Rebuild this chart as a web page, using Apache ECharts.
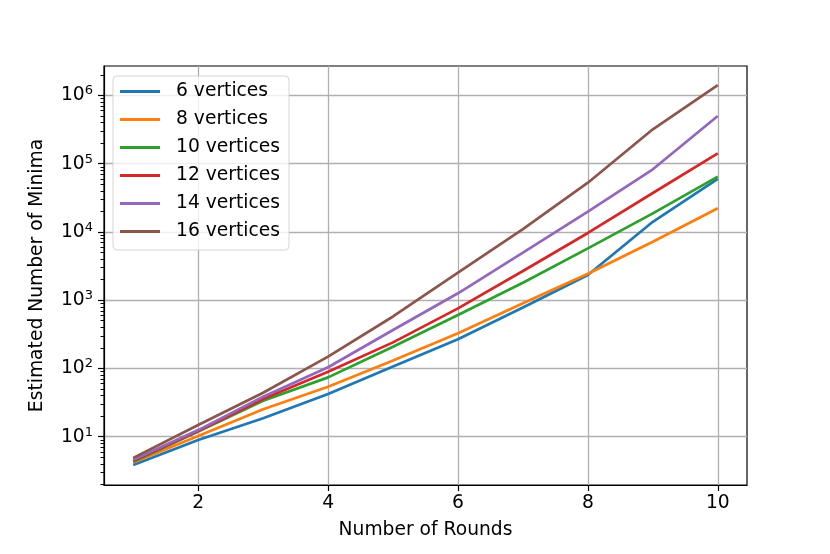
<!DOCTYPE html>
<html>
<head>
<meta charset="utf-8">
<script src="https://cdn.jsdelivr.net/npm/echarts@6/dist/echarts.min.js"></script>
<style>
html,body{margin:0;padding:0;background:#fff;}
#chart{width:830px;height:554px;}
</style>
</head>
<body>
<div id="chart"></div>
<script>
const rounds = [1, 2, 3, 4, 5, 6, 7, 8, 9, 10];
const seriesNames = ['6 vertices', '8 vertices', '10 vertices', '12 vertices', '14 vertices', '16 vertices'];
const v6  = [3.85, 8.95, 18.6, 42.3, 107, 267, 780, 2340, 14100, 59700];
const v8  = [4.2, 10.2, 25.2, 54, 131, 327, 900, 2440, 7200, 22200];
const v10 = [4.3, 11.9, 33.6, 74, 208, 607, 1800, 5750, 18700, 64600];
const v12 = [4.45, 12.1, 35.7, 89.6, 241, 760, 2680, 9660, 37200, 142000];
const v14 = [4.6, 12.5, 38.5, 104, 366, 1262, 4970, 19800, 82800, 500000];
const v16 = [4.9, 14.8, 44, 149, 577, 2530, 11000, 52700, 319000, 1420000];
const allValues = [v6, v8, v10, v12, v14, v16];
const xTicks = [2, 4, 6, 8, 10];
const yTicks = [10, 100, 1000, 10000, 100000, 1000000];
const yMinorTicks = [2,3,4,5,6,7,8,9,20,30,40,50,60,70,80,90,200,300,400,500,600,700,800,900,
  2000,3000,4000,5000,6000,7000,8000,9000,20000,30000,40000,50000,60000,70000,80000,90000,
  200000,300000,400000,500000,600000,700000,800000,900000,2000000];
const colors = ['#1f77b4', '#ff7f0e', '#2ca02c', '#d62728', '#9467bd', '#8c564b'];

const FONT = 'DejaVu Sans';
const chart = echarts.init(document.getElementById('chart'), null, {renderer: 'canvas'});

const series = seriesNames.map((name, k) => ({
  name: name,
  type: 'line',
  data: rounds.map((x, i) => [x, allValues[k][i]]),
  showSymbol: false,
  symbol: 'none',
  lineStyle: {width: 2.7, color: colors[k]},
  itemStyle: {color: colors[k]},
  emphasis: {disabled: true},
  animation: false,
  xAxisIndex: 0,
  yAxisIndex: 0
}));

const option = {
  animation: false,
  backgroundColor: '#fff',
  color: colors,
  grid: {left: 104, right: 83, top: 66, bottom: 69, show: true, borderColor: '#000', borderWidth: 1.2, backgroundColor: 'transparent'},
  legend: {
    orient: 'vertical',
    left: 113, top: 76,
    data: seriesNames,
    icon: 'rect',
    itemWidth: 40, itemHeight: 3,
    itemGap: 9,
    padding: [6, 9, 9, 7],
    backgroundColor: 'rgba(255,255,255,0.8)',
    borderColor: 'rgba(204,204,204,0.8)',
    borderWidth: 1,
    borderRadius: 4,
    textStyle: {fontFamily: FONT, fontSize: 18.7, color: '#000', lineHeight: 19, padding: [0, 0, 0, 11]}
  },
  xAxis: [{
    type: 'value',
    min: 0.55, max: 10.45,
    name: 'Number of Rounds',
    nameLocation: 'middle',
    nameGap: 36,
    nameTextStyle: {fontFamily: FONT, fontSize: 18.7, color: '#000'},
    axisLine: {show: true, onZero: false, lineStyle: {color: '#000', width: 1.2}},
    axisTick: {show: true, length: 6, lineStyle: {color: '#000', width: 1.2}, customValues: xTicks},
    axisLabel: {fontFamily: FONT, fontSize: 18.7, color: '#000', margin: 9, customValues: xTicks},
    splitLine: {show: true, lineStyle: {color: '#b0b0b0', width: 1.3}}
  }],
  yAxis: [{
    type: 'log',
    logBase: 10,
    min: 1.96, max: 2.7e6,
    name: 'Estimated Number of Minima',
    nameLocation: 'middle',
    nameGap: 57,
    nameRotate: 90,
    nameTextStyle: {fontFamily: FONT, fontSize: 18.7, color: '#000'},
    axisLine: {show: true, onZero: false, lineStyle: {color: '#000', width: 1.2}},
    axisTick: {show: true, length: 6, lineStyle: {color: '#000', width: 1.2}, customValues: yTicks},
    axisLabel: {
      fontFamily: FONT, fontSize: 18.7, color: '#000', margin: 11,
      customValues: yTicks,
      formatter: function (v) {
        const e = Math.round(Math.log10(v));
        return '{b|10}{s|' + e + '}';
      },
      rich: {
        b: {fontFamily: FONT, fontSize: 18.7, color: '#000'},
        s: {fontFamily: FONT, fontSize: 13, color: '#000', verticalAlign: 'bottom', padding: [0, 0, 9, 0]}
      }
    },
    splitLine: {show: true, lineStyle: {color: '#b0b0b0', width: 1.3}}
  }, {
    type: 'log',
    logBase: 10,
    min: 1.96, max: 2.7e6,
    position: 'left',
    offset: 0,
    show: true,
    axisLine: {show: false},
    axisTick: {show: true, length: 3.5, lineStyle: {color: '#000', width: 1}, customValues: yMinorTicks},
    axisLabel: {show: false},
    splitLine: {show: false}
  }],
  series: series
};
chart.setOption(option);
</script>
</body>
</html>
